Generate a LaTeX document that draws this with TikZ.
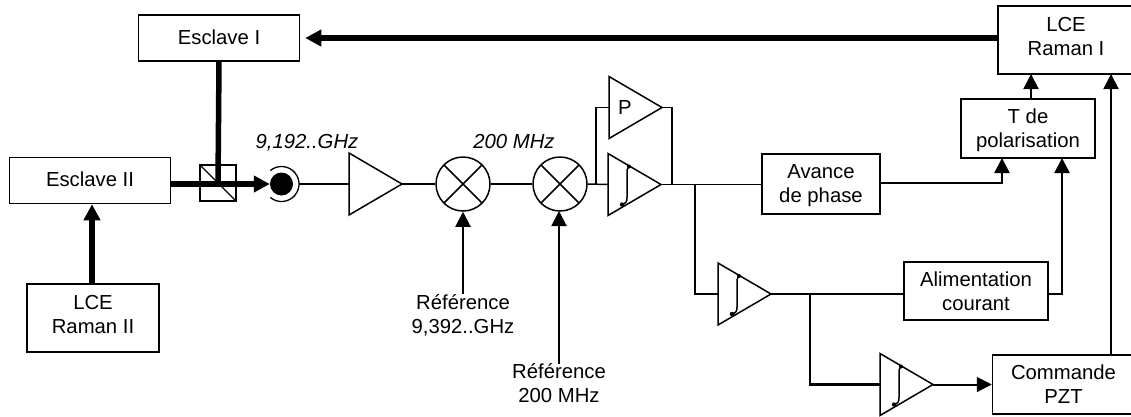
\documentclass[tikz,border=0pt]{standalone}
\usepackage{fontspec}
\setmainfont{Liberation Sans}
\usetikzlibrary{arrows.meta,calc,shapes.geometric}
\tikzset{
    bloc/.style={draw,line width=1.5pt,align=center,inner sep=0pt,text depth=0pt,font=\fontsize{20.3}{24}\selectfont},
    etiq/.style={align=center,inner sep=0pt,font=\fontsize{20.3}{24}\selectfont},
    freq/.style={inner sep=0pt,font=\fontsize{20.3}{24}\selectfont\itshape},
    ampli/.style={draw,line width=1.5pt,isosceles triangle,isosceles triangle stretches,shape border rotate=0,
        minimum width=62pt,minimum height=53pt,inner sep=0pt,outer sep=0pt,anchor=lower side,font=\fontsize{20.3}{24}\selectfont},
    melangeur/.style={circle,draw,line width=1.5pt,minimum size=54pt,inner sep=0pt,
        path picture={
            \draw[line width=1.5pt] (path picture bounding box.south west) -- (path picture bounding box.north east);
            \draw[line width=1.5pt] (path picture bounding box.north west) -- (path picture bounding box.south east);
        }},
    cube/.style={draw,line width=1.2pt,minimum size=36pt,inner sep=0pt,
        path picture={\draw[line width=1.2pt] (path picture bounding box.north west) -- (path picture bounding box.south east);}},
    fil/.style={line width=1.5pt},
    filmoyen/.style={line width=2.4pt},
    fleche/.style={line width=2pt,-{Triangle[length=15pt,width=15pt]}},
    faisceau/.style={line width=5.5pt},
    flechefaisceau/.style={line width=5.5pt,-{Triangle[length=16pt,width=16pt]}}
}
% symbole integrale dans un ampli
\newcommand{\integrale}[1]{
    \begin{scope}[shift={(#1.lower side)}]
        \draw[line width=1.5pt] (21,-18) .. controls (19,-17) and (19,-14) .. (19,-10) -- (19,13) .. controls (19,17) and (18,19) .. (14,20);
        \fill (21,-18) circle (2pt);
        \fill (14,20) circle (2.2pt);
    \end{scope}
}

\begin{document}
\begin{tikzpicture}[x=1pt,y=-1pt,>=Stealth]
    \useasboundingbox (0,0) rectangle (1131,416);
    % Lasers
    \node[bloc,text depth=2pt,minimum width=161pt,minimum height=46pt] (slave1) at (219,38) {Esclave I};
    \node[bloc,text depth=2pt,minimum width=161pt,minimum height=46pt] (slave2) at (90,180.5) {Esclave II};
    \node[bloc,text depth=6.5pt,minimum width=132pt,minimum height=68pt] (lce2) at (93,318) {LCE\\Raman II};
    \node[bloc,text depth=6.5pt,minimum width=136pt,minimum height=68pt] (lce1) at (1066,40) {LCE\\Raman I};
    \node[bloc,minimum width=134pt,minimum height=59pt] (pol) at (1028,128.5) {T de\\polarisation};
    % Cube et photodiode
    \node[cube] (bs) at (218,183) {};
    \node[circle,fill=black,minimum size=23pt,inner sep=0pt] (det) at (281.5,184) {};
    \draw[line width=1.3pt] (det.center) ++(130:17.5) arc[start angle=130,end angle=-130,radius=17.5];
    \coordinate (detout) at (299,184);
    \node[freq] (f1) at (307,143) {9,192..GHz};
    % Chaine de mesure
    \node[ampli] (amp1) at (349,184) {};
    \node[melangeur] (mix1) at (463,184) {};
    \node[melangeur] (mix2) at (560,184) {};
    \node[freq] (f2) at (514,142) {200 MHz};
    \node[etiq] (ref1) at (463,315) {Référence\\9,392..GHz};
    \node[etiq] (ref2) at (559,383.5) {Référence\\200 MHz};
    % Correcteurs
    \node[ampli] (ampP) at (609,107.5) {P};
    \node[ampli] (ampI) at (608,184.5) {};
    \node[ampli] (amp3) at (718,294) {};
    \node[ampli] (amp4) at (880,384.5) {};
    \integrale{ampI}
    \integrale{amp3}
    \integrale{amp4}
    \node[bloc,minimum width=118pt,minimum height=60pt] (avance) at (821,184) {Avance\\de phase};
    \node[bloc,minimum width=144pt,minimum height=58pt] (alim) at (976,291) {Alimentation\\courant};
    \node[bloc,minimum width=142pt,minimum height=59pt] (pzt) at (1063.5,384.5) {Commande\\PZT};
    % Faisceaux
    \draw[flechefaisceau,shorten >=5pt] (lce1.west |- slave1.east) -- (slave1.east);
    \draw[faisceau] (slave1.south) -- (bs.center);
    \draw[flechefaisceau] (slave2.east |- det.west) -- (det.west);
    \draw[flechefaisceau] (lce2.north -| 92,0) -- (92,0 |- slave2.south);
    % Signal
    \draw[fil] (detout) -- (amp1.lower side);
    \draw[fil] (amp1.apex) -- (mix1.west);
    \draw[fil] (mix1.east) -- (mix2.west);
    \draw[fil] (mix2.east) -- (ampI.lower side);
    \draw[fleche] (ref1.north) -- (mix1.south);
    \draw[fleche] (ref2.north) -- (559,211);
    % Branche proportionnelle
    \draw[fil] (596,184) -- (596,107.5) -- (ampP.lower side);
    \draw[fil] (ampP.apex) -- (672,107.5) -- (672,184);
    % Sorties
    \coordinate (noeud1) at (695,184);
    \coordinate (noeud2) at (810,294);
    \draw[fil] (ampI.apex) -- (avance.west |- ampI.apex);
    \draw[fil] (noeud1) -- (695,294);
    \draw[filmoyen] (694,294) -- (amp3.lower side);
    \draw[fil] (amp3.apex) -- (amp3.apex -| alim.west);
    \draw[fil] (noeud2) -- (810,384.5);
    \draw[filmoyen] (809,384.5) -- (amp4.lower side);
    \draw[fleche] (amp4.apex) -- (amp4.apex -| pzt.west);
    % Retours
    \coordinate (polA) at (1002,158);
    \coordinate (polB) at (1062,158);
    \draw[filmoyen,-{Triangle[length=15pt,width=15pt]}] (avance.east |- 0,183) -- (1002,183) -- (polA);
    \draw[filmoyen,-{Triangle[length=15pt,width=15pt]}] (alim.east |- 0,294) -- (1062,294) -- (polB);
    \draw[fleche] (1031,99) -- (1031,74);
    \draw[fleche] (1111,355) -- (1111,74);
\end{tikzpicture}
\end{document}
